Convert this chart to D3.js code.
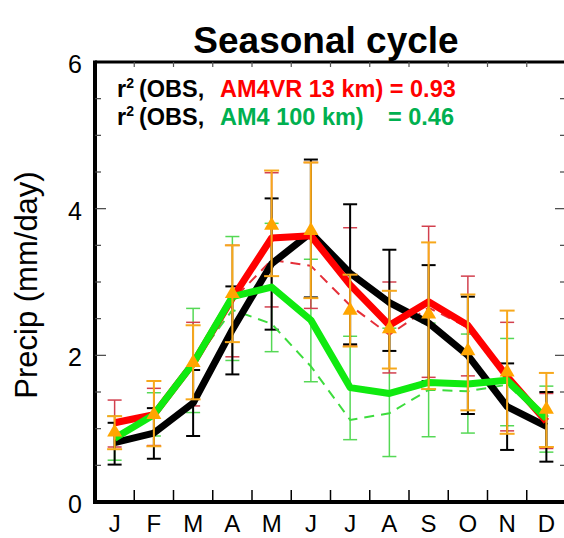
<!DOCTYPE html>
<html>
<head>
<meta charset="utf-8">
<script src="https://cdn.jsdelivr.net/npm/d3@7"></script>
<style>
  body { margin: 0; background: #fff; }
  text { font-family: "Liberation Sans", Arial, Helvetica, sans-serif; }
</style>
</head>
<body>
<div id="chart"></div>
<script>
// Monate
var months = ["J", "F", "M", "A", "M", "J", "J", "A", "S", "O", "N", "D"];
var yTicks = [0, 2, 4, 6];

// OBS (schwarz)
var obs   = [0.81, 0.94, 1.35, 2.35, 3.25, 3.67, 3.12, 2.72, 2.44, 2.00, 1.30, 1.03];
var obsLo = [0.51, 0.59, 0.90, 1.74, 2.35, 2.79, 2.15, 2.06, 1.65, 1.20, 0.71, 0.55];
var obsHi = [1.08, 1.28, 1.80, 2.94, 4.14, 4.67, 4.06, 3.44, 3.23, 2.80, 1.89, 1.50];

// AM4VR 13 km (rot)
var am4vr     = [1.08, 1.19, 1.89, 2.78, 3.60, 3.63, 2.96, 2.41, 2.73, 2.41, 1.71, 1.10];
var am4vrLo   = [0.75, 0.77, 1.31, 1.98, 2.66, 2.64, 2.14, 1.76, 1.70, 1.72, 0.97, 0.73];
var am4vrHi   = [1.39, 1.55, 2.45, 3.50, 4.49, 4.63, 3.74, 3.00, 3.76, 3.08, 2.45, 1.48];
var am4vrDash = [1.05, 1.19, 1.85, 2.75, 3.30, 3.22, 2.68, 2.28, 2.65, 2.38, 1.70, 1.10];

// AM4 100 km (gruen)
var am4     = [0.87, 1.19, 1.89, 2.80, 2.93, 2.48, 1.56, 1.48, 1.63, 1.61, 1.66, 1.14];
var am4Lo   = [0.57, 0.90, 1.22, 1.93, 2.05, 1.64, 0.85, 0.62, 0.89, 0.94, 1.04, 0.68];
var am4Hi   = [1.17, 1.49, 2.64, 3.62, 3.80, 3.31, 2.26, 2.37, 2.44, 2.29, 2.23, 1.58];
var am4Dash = [0.87, 1.19, 1.89, 2.62, 2.43, 1.85, 1.12, 1.21, 1.53, 1.51, 1.60, 1.12];

// zweite Beobachtung (orange Dreiecke)
var obs2   = [0.96, 1.20, 1.91, 2.85, 3.78, 3.71, 2.62, 2.37, 2.57, 2.07, 1.78, 1.27];
var obs2Lo = [0.72, 0.76, 1.40, 2.18, 3.08, 2.78, 2.12, 1.82, 1.54, 1.25, 0.93, 0.75];
var obs2Hi = [1.17, 1.65, 2.41, 3.50, 4.52, 4.63, 3.10, 2.88, 3.54, 2.83, 2.61, 1.76];

var width = 564, height = 538;

var svg = d3.select("#chart")
    .append("svg")
        .attr("width", width)
        .attr("height", height);

var xAxis = d3.scaleLinear()
    .domain([0.5, 12.5])
    .range([95, 566]);

var yAxis = d3.scaleLinear()
    .domain([0, 6])
    .range([502, 62]);

var idx = d3.range(12);

// Fehlerbalken
function errorBars(lo, hi, color, w, capW) {
    var g = svg.append("g")
        .attr("stroke", color)
        .attr("stroke-width", w)
        .attr("fill", "none");
    g.selectAll(".v")
        .data(idx)
        .enter()
        .append("line")
        .attr("x1", i => xAxis(i + 1))
        .attr("x2", i => xAxis(i + 1))
        .attr("y1", i => yAxis(lo[i]))
        .attr("y2", i => yAxis(hi[i]));
    [lo, hi].forEach(function(arr) {
        g.selectAll(null)
            .data(idx)
            .enter()
            .append("line")
            .attr("x1", i => xAxis(i + 1) - capW / 2)
            .attr("x2", i => xAxis(i + 1) + capW / 2)
            .attr("y1", i => yAxis(arr[i]))
            .attr("y2", i => yAxis(arr[i]));
    });
}

errorBars(am4Lo, am4Hi, "#55d855", 1.5, 14);
errorBars(am4vrLo, am4vrHi, "#d2404e", 1.5, 14);
errorBars(obsLo, obsHi, "#000", 2, 14);

var line = d3.line()
    .x((d, i) => xAxis(i + 1))
    .y(d => yAxis(d));

// gestrichelte Linien
svg.append("path")
    .datum(am4Dash)
    .attr("fill", "none")
    .attr("stroke", "#3ddc3d")
    .attr("stroke-width", 2)
    .attr("stroke-dasharray", "10,7")
    .attr("d", line);

svg.append("path")
    .datum(am4vrDash)
    .attr("fill", "none")
    .attr("stroke", "#e5303a")
    .attr("stroke-width", 2)
    .attr("stroke-dasharray", "10,7")
    .attr("d", line);

// dicke Linien
[[obs, "#000"], [am4vr, "#ff0000"], [am4, "#10ea10"]].forEach(function(s) {
    svg.append("path")
        .datum(s[0])
        .attr("fill", "none")
        .attr("stroke", s[1])
        .attr("stroke-width", 7)
        .attr("stroke-linejoin", "round")
        .attr("d", line);
});

// orange Fehlerbalken + Dreiecke
errorBars(obs2Lo, obs2Hi, "#f7a81b", 2, 15);

svg.selectAll(".tri")
    .data(obs2)
    .enter()
    .append("path")
    .attr("class", "tri")
    .attr("fill", "#ffa500")
    .attr("d", "M0,-8L7.5,5L-7.5,5Z")
    .attr("transform", (d, i) => `translate(${xAxis(i + 1)}, ${yAxis(d)})`);

// Rahmen und Ticks
var frame = svg.append("g").attr("stroke", "#000");

frame.append("line").attr("x1", xAxis(0.5)).attr("x2", xAxis(12.5))
    .attr("y1", yAxis(6)).attr("y2", yAxis(6)).attr("stroke-width", 3);
frame.append("line").attr("x1", xAxis(0.5) - 2).attr("x2", xAxis(12.5))
    .attr("y1", yAxis(0)).attr("y2", yAxis(0)).attr("stroke-width", 4);
frame.append("line").attr("x1", xAxis(0.5)).attr("x2", xAxis(0.5))
    .attr("y1", yAxis(6) - 1.5).attr("y2", yAxis(0)).attr("stroke-width", 4);
frame.append("line").attr("x1", xAxis(12.5) + 2).attr("x2", xAxis(12.5) + 2)
    .attr("y1", yAxis(6)).attr("y2", yAxis(0)).attr("stroke-width", 4);

var bounds = d3.range(1.5, 12.5, 1);
frame.selectAll(".bt")
    .data(bounds)
    .enter()
    .append("line")
    .attr("stroke-width", 1.5)
    .attr("x1", d => xAxis(d)).attr("x2", d => xAxis(d))
    .attr("y1", yAxis(0)).attr("y2", yAxis(0) - 12);
frame.selectAll(".tt")
    .data(bounds)
    .enter()
    .append("line")
    .attr("stroke-width", 1.2)
    .attr("stroke", "#555")
    .attr("x1", d => xAxis(d)).attr("x2", d => xAxis(d))
    .attr("y1", yAxis(6)).attr("y2", yAxis(6) + 5);

var yMinor = d3.range(0.5, 6, 0.5);
frame.selectAll(".yl")
    .data(yMinor)
    .enter()
    .append("line")
    .attr("stroke-width", 1.2)
    .attr("stroke", "#444")
    .attr("x1", xAxis(0.5)).attr("x2", d => xAxis(0.5) + (d % 2 == 0 ? 11 : 6))
    .attr("y1", d => yAxis(d)).attr("y2", d => yAxis(d));
frame.selectAll(".yr")
    .data(yMinor)
    .enter()
    .append("line")
    .attr("stroke-width", 1.2)
    .attr("stroke", "#444")
    .attr("x1", xAxis(12.5)).attr("x2", d => xAxis(12.5) - (d % 2 == 0 ? 11 : 6))
    .attr("y1", d => yAxis(d)).attr("y2", d => yAxis(d));

// Beschriftung
svg.selectAll(".ylab")
    .data(yTicks)
    .enter()
    .append("text")
    .attr("x", 82)
    .attr("y", d => yAxis(d) + 11)
    .attr("text-anchor", "end")
    .attr("font-size", 25)
    .text(d => d);

svg.selectAll(".xlab")
    .data(months)
    .enter()
    .append("text")
    .attr("x", (d, i) => xAxis(i + 1))
    .attr("y", 532)
    .attr("text-anchor", "middle")
    .attr("font-size", 24)
    .text(d => d);

svg.append("text")
    .attr("transform", "translate(37, 285) rotate(-90)")
    .attr("text-anchor", "middle")
    .attr("font-size", 31)
    .text("Precip (mm/day)");

svg.append("text")
    .attr("x", 326)
    .attr("y", 53)
    .attr("text-anchor", "middle")
    .attr("font-size", 37)
    .attr("font-weight", "bold")
    .text("Seasonal cycle");

// r^2 Legende
function legendLine(y, label, value, color, valueX) {
    var t = svg.append("text")
        .attr("y", y)
        .attr("font-size", 23.5)
        .attr("font-weight", "bold");
    t.append("tspan").attr("x", 117).text("r");
    t.append("tspan").attr("font-size", 14).attr("dy", -9).text("2");
    t.append("tspan").attr("x", 139).attr("dy", 9).text("(OBS,");
    t.append("tspan").attr("x", 220).attr("fill", color).text(label);
    if (valueX) {
        t.append("tspan").attr("x", valueX).attr("fill", color).text(value);
    }
}

legendLine(97, "AM4VR 13 km) = 0.93", null, "#ff0000", null);
legendLine(124.5, "AM4 100 km)", "= 0.46", "#00b050", 388);
</script>
</body>
</html>
